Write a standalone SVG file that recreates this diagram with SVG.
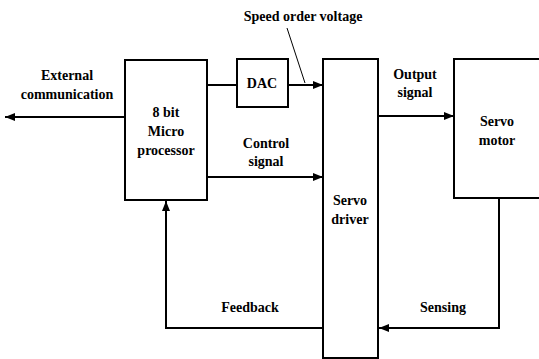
<svg xmlns="http://www.w3.org/2000/svg" width="539" height="359" viewBox="0 0 539 359">
<style>
.box{fill:#fff;stroke:#000;stroke-width:2}
.ln{fill:none;stroke:#000;stroke-width:2}
.thin{fill:none;stroke:#000;stroke-width:1}
text{font-family:"Liberation Serif","Times New Roman",serif;font-weight:bold;font-size:14px;fill:#000;text-anchor:middle}
</style>
<defs>
<marker id="ah" markerWidth="10" markerHeight="8" refX="10" refY="4" orient="auto" markerUnits="userSpaceOnUse">
<path d="M0,0 L10,4 L0,8 Z" fill="#000"/>
</marker>
</defs>
<rect width="539" height="359" fill="#fff"/>
<g id="connectors">
<line class="ln" x1="125" y1="117" x2="5" y2="117" marker-end="url(#ah)"/>
<line class="ln" x1="207" y1="85" x2="237" y2="85"/>
<line class="ln" x1="288" y1="85" x2="323" y2="85" marker-end="url(#ah)"/>
<line class="ln" x1="207" y1="177" x2="323" y2="177" marker-end="url(#ah)"/>
<line class="ln" x1="378" y1="116" x2="454" y2="116" marker-end="url(#ah)"/>
<polyline class="ln" points="323,328 166,328 166,201" marker-end="url(#ah)"/>
<polyline class="ln" points="499,198 499,328 379,328" marker-end="url(#ah)"/>
<line class="thin" x1="287" y1="28" x2="305" y2="83"/>
</g>
<g id="micro">
<rect class="box" x="125" y="60" width="82" height="140"/>
<text x="166" y="117">8 bit</text>
<text x="166" y="136">Micro</text>
<text x="166" y="155">processor</text>
</g>
<g id="dac">
<rect class="box" x="237" y="59" width="51" height="48"/>
<text x="262" y="88">DAC</text>
</g>
<g id="driver">
<rect class="box" x="323" y="59" width="55" height="299"/>
<text x="350" y="205">Servo</text>
<text x="350" y="224">driver</text>
</g>
<g id="motor">
<rect class="box" x="454" y="59" width="90" height="139"/>
<text x="497" y="126">Servo</text>
<text x="497" y="145">motor</text>
</g>
<g id="labels">
<text x="303" y="21">Speed order voltage</text>
<text x="67" y="80">External</text>
<text x="67" y="99">communication</text>
<text x="266" y="148">Control</text>
<text x="266" y="166">signal</text>
<text x="415" y="79">Output</text>
<text x="415" y="97">signal</text>
<text x="250" y="312">Feedback</text>
<text x="443" y="312">Sensing</text>
</g>
</svg>
